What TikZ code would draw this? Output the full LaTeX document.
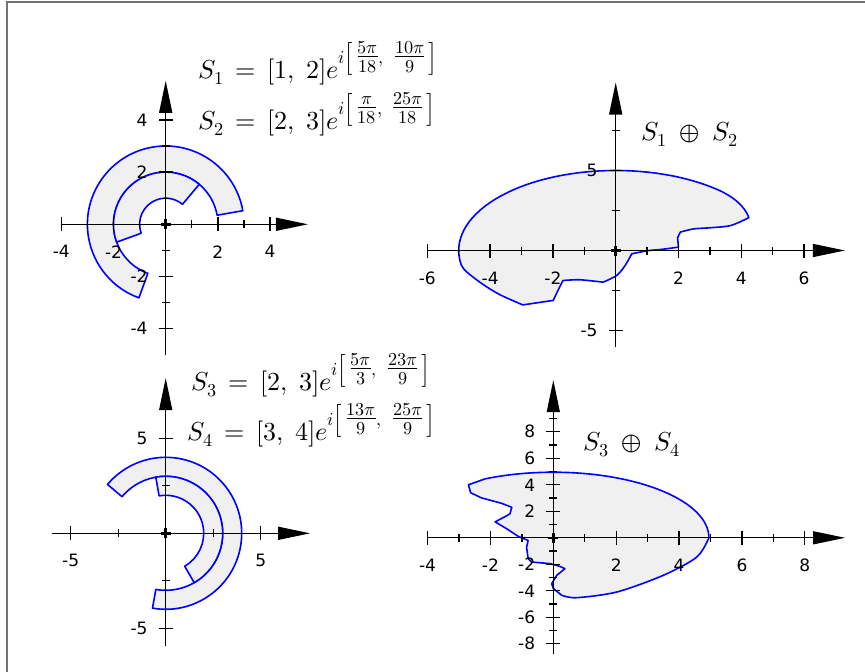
\documentclass[tikz,border=0pt]{standalone}
\usepackage{amsmath}
\usepackage{unicode-math}
\setmathfont{Latin Modern Math}
\newfontfamily\ticksfont{DejaVu Sans}
\usetikzlibrary{arrows.meta}

\begin{document}
\begin{tikzpicture}[x=1pt, y=-1pt,
    frame/.style={draw=black!55, line width=1.5pt},
    axis/.style={draw=black, line width=1.3pt,
        -{Triangle[length=32pt, width=13pt]}},
    major tick/.style={draw=black, line width=1.3pt},
    origin mark/.style={draw=black, line width=2.6pt},
    region/.style={draw=blue, fill=black!6, line width=1.6pt,
        line join=round},
    tick label/.style={font=\ticksfont\fontsize{17}{17}\selectfont,
        inner sep=1pt},
    formula/.style={font=\fontsize{26}{30}\selectfont, inner sep=0pt,
        anchor=base west}
]
\path[use as bounding box] (0,0) rectangle (865,672);
\draw[frame] (7,672) -- (7,2) -- (865,2);

% (a) S1 and S2
\begin{scope}[shift={(165.7,224.3)}, x=26.1pt, y=26.1pt]
    \draw[region] (10:3) arc[start angle=10, end angle=250, radius=3]
        -- (250:2) arc[start angle=250, end angle=10, radius=2] -- cycle;
    \draw[region] (50:2) arc[start angle=50, end angle=200, radius=2]
        -- (200:1) arc[start angle=200, end angle=50, radius=1] -- cycle;

    \draw[axis] (-4.03,0) -- (5.45,0);
    \draw[axis] (0,-5) -- (0,5.5);
    \foreach \k in {-4,-2,2,4} {
        \draw[major tick] (\k,0) ++(0,-7pt) -- ++(0,14pt);
        \draw[major tick] (0,\k) ++(-7pt,0) -- ++(14pt,0);
        \node[tick label, below=20pt] (a-x\k) at (\k,0) {\k};
        \node[tick label, left=17pt] (a-y\k) at (0,\k) {\k};
    }
    \foreach \k in {-3,-1,1,3} {
        \draw[major tick] (\k,0) ++(0,-4pt) -- ++(0,8pt);
        \draw[major tick] (0,\k) ++(-4pt,0) -- ++(8pt,0);
    }
    \draw[origin mark] (-5pt,0) -- (5pt,0) (0,-5pt) -- (0,5pt);
\end{scope}

% (b) S1 + S2
\begin{scope}[shift={(615.7,250.5)}, x=31.4pt, y=16pt]
    \draw[region] (4.24,2.053) arc[start angle=10, end angle=50, radius=3]
        arc[start angle=50, end angle=190, radius=5]
        -- plot[smooth] coordinates {(-4.924,-0.868) (-4.77,-1.3)
            (-4.24,-2.1) (-3.7,-2.75) (-2.96,-3.4)}
        -- (-1.99,-3.12) -- (-1.84,-2.5) -- (-1.68,-1.875)
        -- plot[smooth] coordinates {(-1.68,-1.875) (-1.14,-1.83) (-0.4,-1.98)}
        -- plot[smooth] coordinates {(-0.4,-1.98) (0.03,-1.56) (0.3,-0.94)
            (0.51,-0.21)}
        -- plot[smooth] coordinates {(0.51,-0.21) (0.99,-0.02) (1.5,0.08)
            (2.0,0.21)}
        -- (1.97,0.79) -- (2.06,1.15)
        -- plot[smooth] coordinates {(2.06,1.15) (2.48,1.35) (3.0,1.42)
            (3.66,1.56) (4.24,2.053)}
        -- cycle;

    \draw[axis] (-6,0) -- (7.3,0);
    \draw[axis] (0,-6.03) -- (0,10.5);
    \foreach \k in {-6,-4,-2,2,4,6} {
        \draw[major tick] (\k,0) ++(0,-7pt) -- ++(0,14pt);
        \node[tick label, below=20pt] (b-x\k) at (\k,0) {\k};
    }
    \foreach \k in {-5,-3,-1,1,3,5}
        \draw[major tick] (\k,0) ++(0,-4pt) -- ++(0,8pt);
    \foreach \k in {-5,5} {
        \draw[major tick] (0,\k) ++(-7pt,0) -- ++(14pt,0);
        \node[tick label, left=17pt] (b-y\k) at (0,\k) {\k};
    }
    \foreach \k in {-2.5,2.5,7.5}
        \draw[major tick] (0,\k) ++(-4pt,0) -- ++(8pt,0);
    \draw[origin mark] (-5pt,0) -- (5pt,0) (0,-5pt) -- (0,5pt);
\end{scope}

% (c) S3 and S4
\begin{scope}[shift={(165.7,533.3)}, x=19pt, y=19pt]
    \draw[region] (-100:4) arc[start angle=-100, end angle=140, radius=4]
        -- (140:3) arc[start angle=140, end angle=-100, radius=3] -- cycle;
    \draw[region] (-60:3) arc[start angle=-60, end angle=100, radius=3]
        -- (100:2) arc[start angle=100, end angle=-60, radius=2] -- cycle;

    \draw[axis] (-6,0) -- (7.6,0);
    \draw[axis] (0,-5.94) -- (0,8.17);
    \foreach \k in {-5,5} {
        \draw[major tick] (\k,0) ++(0,-7pt) -- ++(0,14pt);
        \draw[major tick] (0,\k) ++(-7pt,0) -- ++(14pt,0);
        \node[tick label, below=20pt] (c-x\k) at (\k,0) {\k};
        \node[tick label, left=17pt] (c-y\k) at (0,\k) {\k};
    }
    \foreach \k in {-2.5,2.5} {
        \draw[major tick] (\k,0) ++(0,-4pt) -- ++(0,8pt);
        \draw[major tick] (0,\k) ++(-4pt,0) -- ++(8pt,0);
    }
    \draw[origin mark] (-5pt,0) -- (5pt,0) (0,-5pt) -- (0,5pt);
\end{scope}

% (d) S3 + S4
\begin{scope}[shift={(553.3,537.8)}, x=31.44pt, y=13.25pt]
    \draw[region] (4.95,0) arc[start angle=0, end angle=116, radius=4.95]
        -- (-2.7,4.0) -- (-2.63,3.4) -- (-2.28,3.01) -- (-1.64,2.6)
        -- (-1.32,2.3) -- (-1.38,1.8) -- (-1.85,1.2) -- (-1.48,0.68)
        -- (-1.11,0.1) -- (-0.8,-0.2) -- (-0.85,-0.71) -- (-0.8,-1.58)
        -- (-0.69,-1.83) -- (-0.1,-1.95) -- (0.21,-2.16) -- (0.37,-2.33)
        -- (0.11,-2.83) -- (-0.05,-3.46) -- (0,-3.83) -- (0.27,-4.34)
        -- plot[smooth] coordinates {(0.27,-4.34) (0.74,-4.52) (2.02,-4.09)
            (3.5,-2.83) (4.56,-1.46) (4.95,0)}
        -- cycle;

    \draw[axis] (-4,0) -- (9.28,0);
    \draw[axis] (0,-8.8) -- (0,11.9);
    \foreach \k in {-4,-2,2,4,6,8} {
        \draw[major tick] (\k,0) ++(0,-7pt) -- ++(0,14pt);
        \node[tick label, below=20pt] (d-x\k) at (\k,0) {\k};
    }
    \foreach \k in {-3,-1,1,3,5,7}
        \draw[major tick] (\k,0) ++(0,-4pt) -- ++(0,8pt);
    \foreach \k in {-8,-6,-4,-2,2,4,6,8} {
        \draw[major tick] (0,\k) ++(-7pt,0) -- ++(14pt,0);
        \node[tick label, left=17pt] (d-y\k) at (0,\k) {\k};
    }
    \foreach \k in {-7,-5,-3,-1,1,3,5,7,9}
        \draw[major tick] (0,\k) ++(-4pt,0) -- ++(8pt,0);
    \draw[origin mark] (-5pt,0) -- (5pt,0) (0,-5pt) -- (0,5pt);
\end{scope}

% formulas
\node[formula] (eq-s1) at (198,78)
    {$S_1\,=\,[1,\;2]e^{i\left[\,\tfrac{5\pi}{18},\;\;\tfrac{10\pi}{9}\,\right]}$};
\node[formula] (eq-s2) at (198,129)
    {$S_2\,=\,[2,\;3]e^{i\left[\,\tfrac{\pi}{18},\;\;\tfrac{25\pi}{18}\,\right]}$};
\node[formula] (eq-s3) at (191,390)
    {$S_3\,=\,[2,\;3]e^{i\left[\,\tfrac{5\pi}{3},\;\;\tfrac{23\pi}{9}\,\right]}$};
\node[formula] (eq-s4) at (187,440)
    {$S_4\,=\,[3,\;4]e^{i\left[\,\tfrac{13\pi}{9},\;\;\tfrac{25\pi}{9}\,\right]}$};
\node[formula] (sum-a) at (641,140) {$S_1 \;\oplus\; S_2$};
\node[formula] (sum-b) at (583,450) {$S_3 \;\oplus\; S_4$};

\end{tikzpicture}
\end{document}
